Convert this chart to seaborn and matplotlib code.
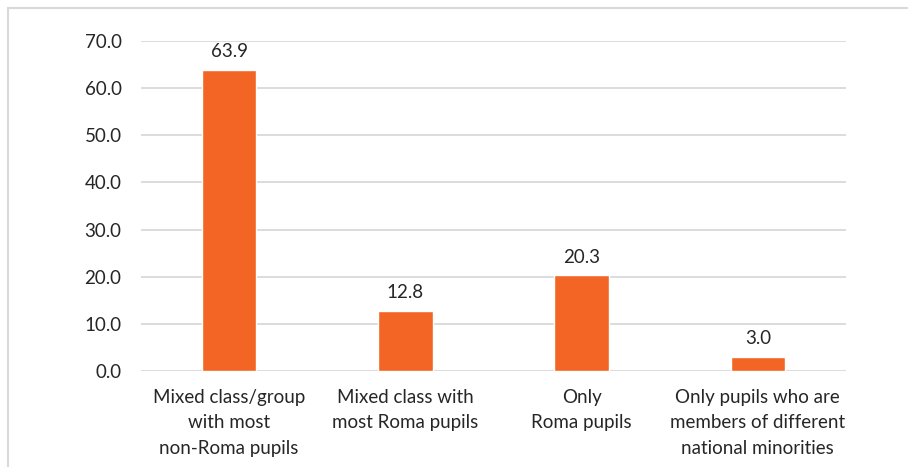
import seaborn as sns
import matplotlib.pyplot as plt
import pandas as pd
from matplotlib.patches import Rectangle

categories = ['Mixed class/group\nwith most\nnon-Roma pupils',
              'Mixed class with\nmost Roma pupils',
              'Only\nRoma pupils',
              'Only pupils who are\nmembers of different\nnational minorities']
values = [63.9, 12.8, 20.3, 3.0]
yticks = [0, 10, 20, 30, 40, 50, 60, 70]

sns.set_style('white')
plt.rcParams['font.family'] = ['Lato', 'DejaVu Sans']

df = pd.DataFrame({'cat': categories, 'val': values})

fig = plt.figure(figsize=(9.08, 4.67), dpi=100)
ax = fig.add_axes([0.1553, 0.2056, 0.7764, 0.7066])

sns.barplot(data=df, x='cat', y='val', color='#f26524', saturation=1, width=0.31, ax=ax)

ax.set_ylim(0, 70)
ax.set_yticks(yticks)
ax.set_yticklabels([f'{v:.1f}' for v in yticks])
ax.yaxis.grid(True, color='#d9d9d9', linewidth=1.3)
ax.set_axisbelow(True)
for s in ax.spines.values():
    s.set_visible(False)
ax.tick_params(axis='both', length=0, labelsize=13.5, labelcolor='#262626')
ax.tick_params(axis='y', pad=14)
ax.tick_params(axis='x', pad=13)
for t in ax.get_xticklabels():
    t.set_linespacing(1.6)
ax.set_xlabel('')
ax.set_ylabel('')

ax.bar_label(ax.containers[0], fmt='%.1f', padding=7, fontsize=13.5, color='#262626')

# outer chart frame
fig.patches.append(Rectangle((8 / 908, -0.05), 1.1, 1 - 8 / 467 + 0.05, transform=fig.transFigure,
                             fill=False, edgecolor='#d9d9d9', linewidth=1.5))

fig.savefig('out.png', dpi=100)
